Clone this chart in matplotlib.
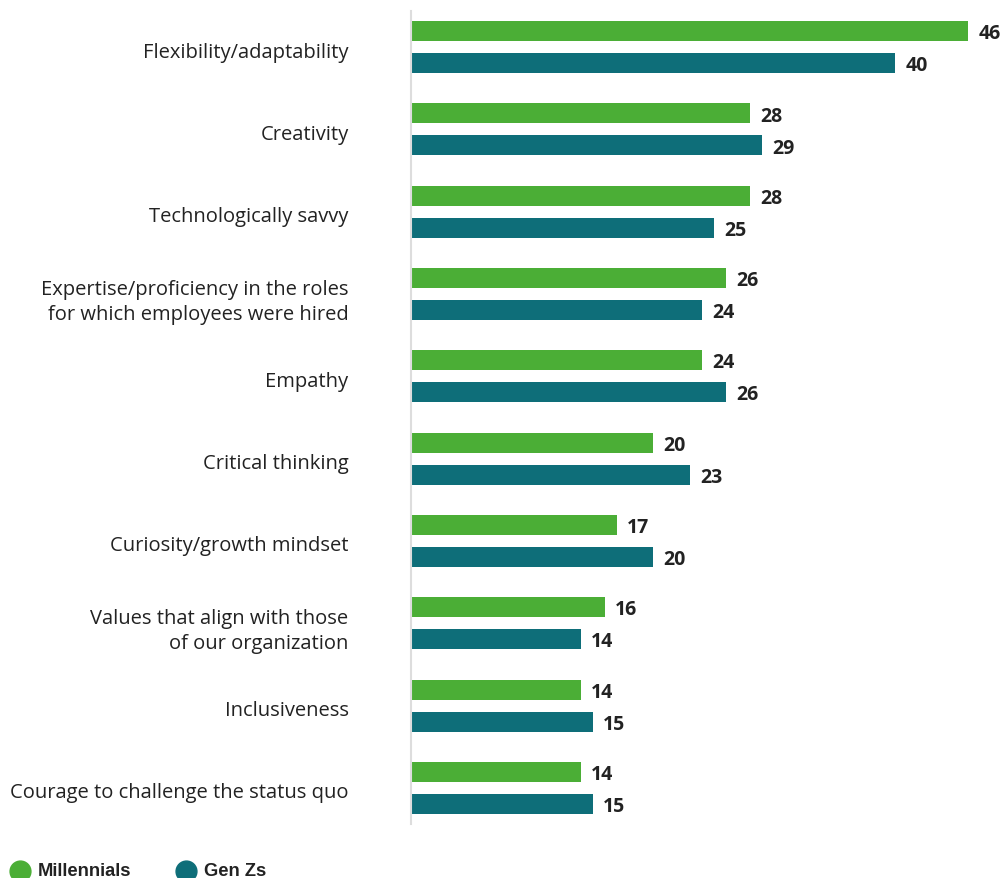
import matplotlib.pyplot as plt
import matplotlib.transforms as mtransforms
from matplotlib.lines import Line2D
import numpy as np

categories = [
    "Flexibility/adaptability",
    "Creativity",
    "Technologically savvy",
    "Expertise/proficiency in the roles\nfor which employees were hired",
    "Empathy",
    "Critical thinking",
    "Curiosity/growth mindset",
    "Values that align with those\nof our organization",
    "Inclusiveness",
    "Courage to challenge the status quo",
]
millennials = [46, 28, 28, 26, 24, 20, 17, 16, 14, 14]
gen_zs = [40, 29, 25, 24, 26, 23, 20, 14, 15, 15]

green = "#4BAE36"
teal = "#0E6E79"

W, H = 1005, 879
fig = plt.figure(figsize=(W / 100, H / 100), dpi=100)
ax = fig.add_axes([411 / W, 1 - 825 / H, (W - 411) / W, (825 - 12) / H])

y = np.arange(len(categories))
off = 16 / 82.3
h = 20 / 82.3
ax.barh(y - off, millennials, height=h, color=green)
ax.barh(y + off, gen_zs, height=h, color=teal)

ax.set_xlim(0, (W - 411) / 12.11)
ax.set_ylim(len(categories) - 1 + 0.44, -0.44)

for i, (m, g) in enumerate(zip(millennials, gen_zs)):
    for val, yy in [(m, i - off), (g, i + off)]:
        ax.annotate(str(val), (val, yy), xytext=(7.5, -1.5), textcoords="offset points",
                    va="center", ha="left", fontsize=14, fontweight="bold",
                    family="Open Sans", color="#222222")

ax.set_yticks(y)
ax.set_yticklabels(categories, family="Open Sans", fontsize=14.5, color="#222222",
                   ha="right", linespacing=1.33)
ax.tick_params(axis="y", length=0, pad=45)
shift = mtransforms.ScaledTranslation(0, -2 / 100, fig.dpi_scale_trans)
for lbl in ax.get_yticklabels():
    lbl.set_transform(lbl.get_transform() + shift)
ax.set_xticks([])
for s in ["top", "right", "bottom"]:
    ax.spines[s].set_visible(False)
ax.spines["left"].set_color("#dddddd")
ax.spines["left"].set_linewidth(1.5)

# legend at bottom
for xc, label, col in [(20, "Millennials", green), (186, "Gen Zs", teal)]:
    fig.add_artist(Line2D([xc / W], [1 - 872 / H], marker="o", markersize=15,
                          color=col, transform=fig.transFigure))
    fig.text((xc + 18) / W, 1 - 872 / H, label, family="Liberation Sans",
             fontweight="bold", fontsize=13.2, color="#222222", va="center")

fig.savefig("out.png", dpi=100)
